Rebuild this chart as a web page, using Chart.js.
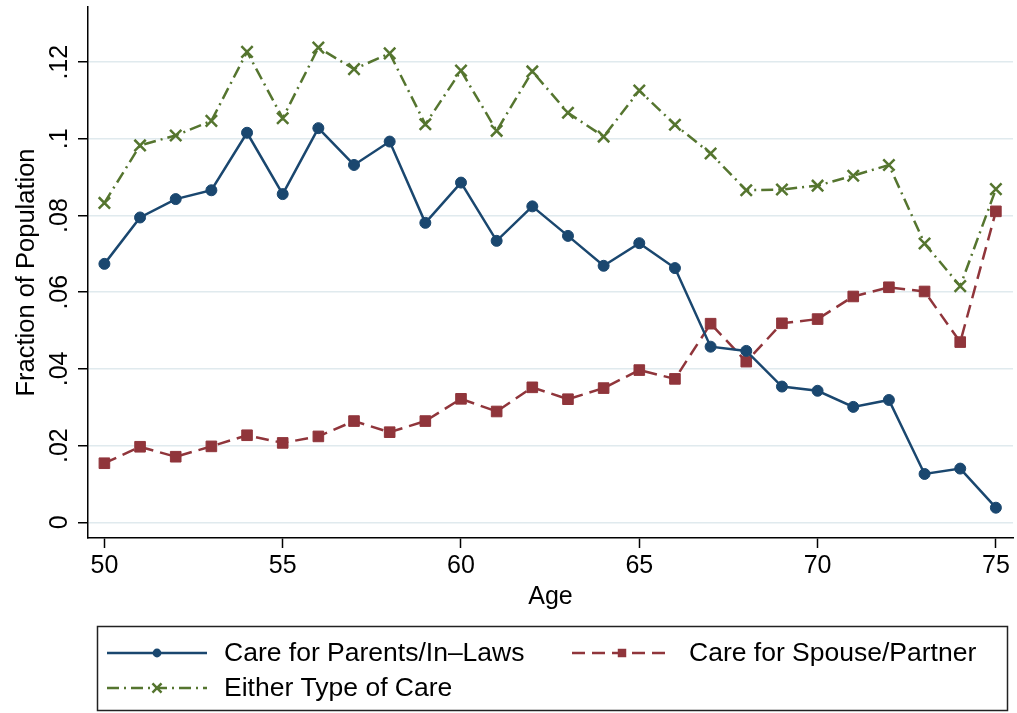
<!DOCTYPE html>
<html>
<head>
<meta charset="utf-8">
<script src="https://cdn.jsdelivr.net/npm/chart.js@4/dist/chart.umd.min.js"></script>
<style>
  html, body { margin: 0; padding: 0; background: #ffffff; }
  canvas { display: block; }
</style>
</head>
<body>
<canvas id="care" width="1017" height="713"></canvas>
<script>
// Age of respondent
const ages = [50, 51, 52, 53, 54, 55, 56, 57, 58, 59, 60, 61, 62, 63, 64, 65, 66, 67, 68, 69, 70, 71, 72, 73, 74, 75];

// Share of population providing each kind of care, by age
const parentsCare = [0.0674, 0.0795, 0.0843, 0.0866, 0.1016, 0.0856, 0.1028, 0.0932, 0.0993, 0.0781,
                     0.0886, 0.0734, 0.0824, 0.0747, 0.0669, 0.0728, 0.0663, 0.0458, 0.0447, 0.0354,
                     0.0343, 0.0301, 0.0319, 0.0126, 0.0140, 0.0038];
const spouseCare  = [0.0154, 0.0197, 0.0171, 0.0198, 0.0227, 0.0207, 0.0224, 0.0264, 0.0235, 0.0264,
                     0.0322, 0.0289, 0.0352, 0.0321, 0.0350, 0.0397, 0.0374, 0.0518, 0.0419, 0.0519,
                     0.0530, 0.0589, 0.0613, 0.0602, 0.0470, 0.0811];
const eitherCare  = [0.0833, 0.0983, 0.1009, 0.1047, 0.1227, 0.1054, 0.1238, 0.1182, 0.1223, 0.1038,
                     0.1178, 0.1021, 0.1176, 0.1068, 0.1006, 0.1126, 0.1037, 0.0962, 0.0866, 0.0868,
                     0.0878, 0.0904, 0.0932, 0.0727, 0.0616, 0.0869];

const seriesNames = ['Care for Parents/In\u2013Laws', 'Care for Spouse/Partner', 'Either Type of Care'];

// Axis ticks
const xTickValues = [50, 55, 60, 65, 70, 75];
const yTickValues = [0, 0.02, 0.04, 0.06, 0.08, 0.10, 0.12];
const yTickLabels = ['0', '.02', '.04', '.06', '.08', '.1', '.12'];

const FONT = '"Liberation Sans", Arial, Helvetica, sans-serif';
const NAVY = '#1a476f', MAROON = '#90353b', FOREST = '#55752f';

const toPoints = vals => ages.map((a, i) => ({ x: a, y: vals[i] }));

// small marker painter for the legend samples
function legendMarker(ctx, style, x, y, r, color, lw) {
  ctx.save();
  ctx.fillStyle = color;
  ctx.strokeStyle = color;
  ctx.lineWidth = lw;
  ctx.setLineDash([]);
  ctx.beginPath();
  if (style === 'circle') {
    ctx.arc(x, y, r, 0, Math.PI * 2);
    ctx.fill();
  } else if (style === 'rect') {
    const s = r * Math.SQRT1_2;
    ctx.rect(x - s, y - s, 2 * s, 2 * s);
    ctx.fill();
  } else {
    const o = r * Math.SQRT1_2;
    ctx.moveTo(x - o, y - o); ctx.lineTo(x + o, y + o);
    ctx.moveTo(x - o, y + o); ctx.lineTo(x + o, y - o);
    ctx.stroke();
  }
  ctx.restore();
}

// boxed legend below the plot, two columns
const boxLegend = {
  id: 'boxLegend',
  afterDraw(chart) {
    const ctx = chart.ctx;
    ctx.save();
    ctx.strokeStyle = '#222';
    ctx.lineWidth = 1.5;
    ctx.strokeRect(97.5, 626.5, 910, 84);
    const slots = [{ x: 107, y: 653 }, { x: 572, y: 653 }, { x: 107, y: 688 }];
    chart.data.datasets.forEach((ds, i) => {
      const s = slots[i];
      ctx.save();
      ctx.strokeStyle = ds.borderColor;
      ctx.lineWidth = ds.borderWidth;
      ctx.setLineDash(ds.borderDash || []);
      ctx.beginPath();
      ctx.moveTo(s.x, s.y);
      ctx.lineTo(s.x + 100, s.y);
      ctx.stroke();
      ctx.restore();
      legendMarker(ctx, ds.pointStyle, s.x + 50, s.y, ds.pointRadius * 0.8, ds.borderColor, ds.pointBorderWidth);
      ctx.fillStyle = '#000';
      ctx.font = '26.5px ' + FONT;
      ctx.textBaseline = 'middle';
      ctx.textAlign = 'left';
      ctx.fillText(ds.label, s.x + 117, s.y + 1);
    });
    ctx.restore();
  }
};

new Chart(document.getElementById('care'), {
  type: 'line',
  data: {
    datasets: [
      {
        label: seriesNames[0],
        data: toPoints(parentsCare),
        borderColor: NAVY, backgroundColor: NAVY,
        borderWidth: 2.5,
        pointStyle: 'circle', pointRadius: 5.5,
        pointBackgroundColor: NAVY, pointBorderColor: NAVY, pointBorderWidth: 1
      },
      {
        label: seriesNames[1],
        data: toPoints(spouseCare),
        borderColor: MAROON, backgroundColor: MAROON,
        borderWidth: 2.5, borderDash: [13, 7],
        pointStyle: 'rect', pointRadius: 7.5,
        pointBackgroundColor: MAROON, pointBorderColor: MAROON, pointBorderWidth: 1
      },
      {
        label: seriesNames[2],
        data: toPoints(eitherCare),
        borderColor: FOREST, backgroundColor: FOREST,
        borderWidth: 2.5, borderDash: [12, 5, 2, 5],
        pointStyle: 'crossRot', pointRadius: 8,
        pointBackgroundColor: FOREST, pointBorderColor: FOREST, pointBorderWidth: 2.5
      }
    ]
  },
  options: {
    responsive: false,
    animation: false,
    devicePixelRatio: 1,
    layout: { autoPadding: false, padding: { left: 0, right: 4, top: 7, bottom: 95 } },
    elements: { line: { tension: 0, fill: false } },
    plugins: { legend: { display: false }, tooltip: { enabled: false } },
    scales: {
      x: {
        type: 'linear',
        min: 49.54, max: 75.48,
        afterBuildTicks: s => { s.ticks = xTickValues.map(v => ({ value: v })); },
        afterFit: s => { s.height = 80; s.paddingLeft = 0; s.paddingRight = 0; s.paddingTop = 0; s.paddingBottom = 0; },
        grid: { drawOnChartArea: false, drawTicks: true, tickLength: 10, tickColor: '#000', tickWidth: 1.5 },
        border: { color: '#000', width: 1.5 },
        ticks: { color: '#000', font: { family: FONT, size: 25 }, padding: 3, maxRotation: 0, autoSkip: false,
                 callback: v => String(v) },
        title: { display: true, text: 'Age', color: '#000', font: { family: FONT, size: 25 },
                 padding: { top: 0, bottom: 6 } }
      },
      y: {
        type: 'linear',
        min: -0.0041, max: 0.1344,
        afterBuildTicks: s => { s.ticks = yTickValues.map(v => ({ value: v })); },
        afterFit: s => { s.width = 88; s.paddingTop = 0; s.paddingBottom = 0; s.paddingLeft = 0; s.paddingRight = 0; },
        grid: { color: '#e0eaee', lineWidth: 1.5, drawTicks: true, tickLength: 10, tickColor: '#000', tickWidth: 1.5 },
        border: { color: '#000', width: 1.5 },
        ticks: { color: '#000', font: { family: FONT, size: 25 }, padding: 1, minRotation: 90, maxRotation: 90,
                 crossAlign: 'center', autoSkip: false,
                 callback: v => yTickLabels[yTickValues.findIndex(t => Math.abs(t - v) < 1e-9)] },
        title: { display: true, text: 'Fraction of Population', color: '#000', font: { family: FONT, size: 25.5 },
                 padding: { top: 12, bottom: 0 } }
      }
    }
  },
  plugins: [boxLegend]
});
</script>
</body>
</html>
